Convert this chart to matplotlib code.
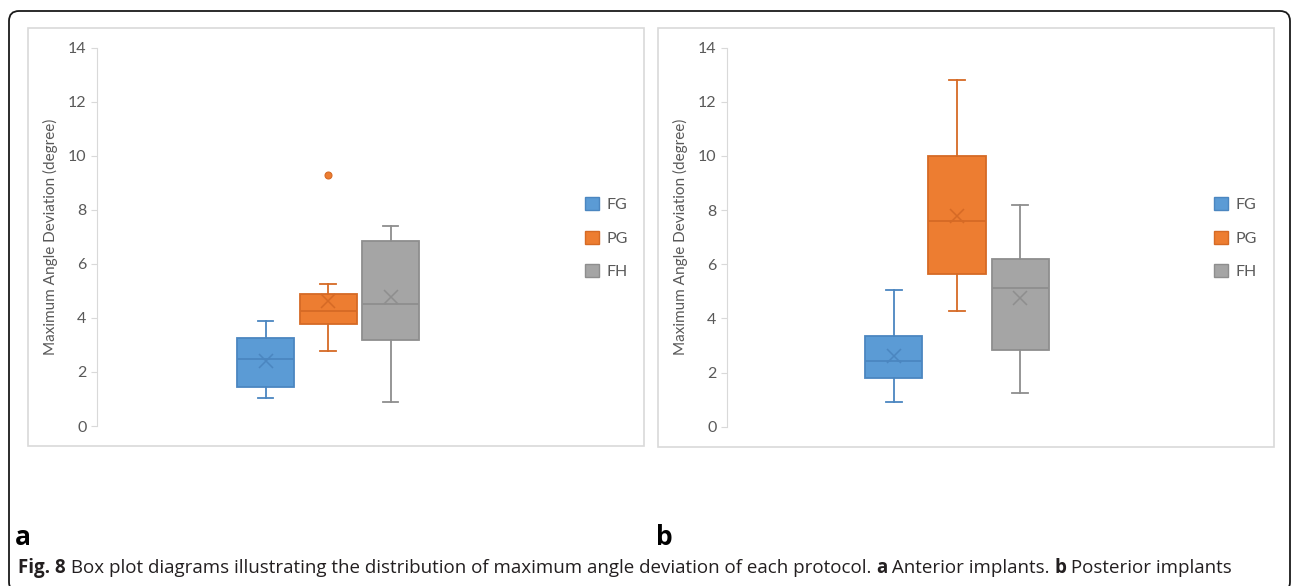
"""Box plots of maximum angle deviation per guide protocol (Fig. 8 a/b)."""
import matplotlib
matplotlib.use("Agg")
import matplotlib.pyplot as plt
from matplotlib.patches import FancyBboxPatch, Rectangle, Patch

W, H, DPI = 1293, 586, 100

groups = ["FG", "PG", "FH"]
fills = ["#5B9BD5", "#ED7D31", "#A5A5A5"]
edges = ["#4B86C0", "#D56A25", "#8E8E8E"]
yticks = [0, 2, 4, 6, 8, 10, 12, 14]
ylabel = "Maximum Angle Deviation (degree)"

# a: anterior implants
a_whislo = [1.02, 2.79, 0.89]
a_q1 = [1.43, 3.78, 3.20]
a_med = [2.49, 4.25, 4.52]
a_q3 = [3.27, 4.90, 6.85]
a_whishi = [3.89, 5.25, 7.40]
a_mean = [2.42, 4.63, 4.79]
a_fliers = [[], [9.28], []]

# b: posterior implants
b_whislo = [0.90, 4.29, 1.26]
b_q1 = [1.81, 5.65, 2.83]
b_med = [2.44, 7.60, 5.11]
b_q3 = [3.35, 10.01, 6.20]
b_whishi = [5.06, 12.81, 8.20]
b_mean = [2.61, 7.78, 4.77]
b_fliers = [[], [], []]

CHART_FONT = ["Lato", "DejaVu Sans"]
CAP_FONT = ["Open Sans", "DejaVu Sans"]
GRAY_TXT = "#595959"
AXIS_GRAY = "#D9D9D9"


def fx(x):
    return x / W


def fy(y):
    return 1 - y / H


def draw_panel(fig, rect_px, axes_px, legend_px, ylabel_x, step_px, stats_cols):
    # light chart border
    x0, y0, x1, y1 = rect_px
    fig.patches.append(Rectangle((fx(x0), fy(y1)), fx(x1 - x0), (y1 - y0) / H,
                                 transform=fig.transFigure, fill=False,
                                 edgecolor=AXIS_GRAY, linewidth=1.2))
    l, t, r, b = axes_px
    ax = fig.add_axes([fx(l), fy(b), fx(r - l), (b - t) / H])
    whislo, q1, med, q3, whishi, mean, fliers = stats_cols
    stats = [
        dict(whislo=whislo[i], q1=q1[i], med=med[i], q3=q3[i],
             whishi=whishi[i], mean=mean[i], fliers=fliers[i], label=g)
        for i, g in enumerate(groups)
    ]
    pos = [1, 2, 3]
    half = (r - l) / 2 / step_px
    box_w = 57 / step_px
    out = ax.bxp(stats, positions=pos, widths=box_w, capwidths=box_w * 0.28,
                 patch_artist=True, showmeans=True, manage_ticks=False)
    for i in range(3):
        out["boxes"][i].set(facecolor=fills[i], edgecolor=edges[i], linewidth=1.3)
        out["medians"][i].set(color=edges[i], linewidth=1.3)
        for ln in out["whiskers"][2 * i:2 * i + 2] + out["caps"][2 * i:2 * i + 2]:
            ln.set(color=edges[i], linewidth=1.3)
        out["means"][i].set(marker="x", markersize=10, markeredgecolor=edges[i],
                            markeredgewidth=1.1, markerfacecolor="none")
        out["fliers"][i].set(marker="o", markersize=5, markerfacecolor=fills[i],
                             markeredgecolor=edges[i], markeredgewidth=0.8)
    ax.set_xlim(2 - half, 2 + half)
    ax.set_ylim(0, 14)
    ax.set_yticks(yticks)
    ax.set_xticks([])
    for s in ("top", "right", "bottom"):
        ax.spines[s].set_visible(False)
    ax.spines["left"].set_color(AXIS_GRAY)
    ax.tick_params(axis="y", length=4, color=AXIS_GRAY, labelcolor=GRAY_TXT,
                   labelsize=11.5, pad=3.5)
    for lab in ax.get_yticklabels():
        lab.set_family(CHART_FONT)
    ax.set_ylabel(ylabel, family=CHART_FONT, color=GRAY_TXT, fontsize=11)
    ax.yaxis.label.set_verticalalignment("center")
    ax.yaxis.set_label_coords((ylabel_x - l) / (r - l), 0.5)
    ax.patch.set_alpha(0)

    handles = [Patch(facecolor=fills[i], edgecolor=edges[i], linewidth=1.0, label=g)
               for i, g in enumerate(groups)]
    lx, ly = legend_px
    fig.legend(handles=handles, loc="upper left",
               bbox_to_anchor=(fx(lx), fy(ly)), frameon=False, borderpad=0,
               borderaxespad=0, handlelength=0.9, handleheight=0.9,
               handletextpad=0.45, labelspacing=1.15,
               prop=dict(family=CHART_FONT, size=11.5), labelcolor=GRAY_TXT)
    return ax


def main():
    fig = plt.figure(figsize=(W / DPI, H / DPI), dpi=DPI)

    # outer rounded frame
    fig.patches.append(FancyBboxPatch((9 / DPI, (H - 592) / DPI), 1281 / DPI, 581 / DPI,
                                      boxstyle="round,pad=0,rounding_size=0.1",
                                      transform=fig.dpi_scale_trans, fill=False,
                                      edgecolor="#1a1a1a", linewidth=1.3))

    draw_panel(fig, (28, 28, 644, 446), (97, 47.7, 559, 426), (585, 197), 50, 62.5,
               (a_whislo, a_q1, a_med, a_q3, a_whishi, a_mean, a_fliers))
    draw_panel(fig, (658, 28, 1274, 447), (727, 47.7, 1187, 426.7), (1214, 197), 680, 63,
               (b_whislo, b_q1, b_med, b_q3, b_whishi, b_mean, b_fliers))

    fig.text(fx(15), fy(545), "a", fontsize=19, fontweight="bold", family=CAP_FONT,
             color="black", ha="left", va="baseline")
    fig.text(fx(656), fy(545), "b", fontsize=19, fontweight="bold", family=CAP_FONT,
             color="black", ha="left", va="baseline")

    # caption with bold segments, placed run by run
    runs = [("Fig. 8", "bold"),
            (" Box plot diagrams illustrating the distribution of maximum angle "
             "deviation of each protocol. ", "normal"),
            ("a", "bold"), (" Anterior implants. ", "normal"),
            ("b", "bold"), (" Posterior implants", "normal")]
    renderer = fig.canvas.get_renderer()
    x = 18
    for txt, wt in runs:
        t = fig.text(fx(x), fy(573), txt, fontsize=13.5, fontweight=wt,
                     family=CAP_FONT, color="#231F20", ha="left", va="baseline")
        bb = t.get_window_extent(renderer=renderer)
        x += bb.width

    fig.savefig("out.png", dpi=DPI)


if __name__ == "__main__":
    main()
